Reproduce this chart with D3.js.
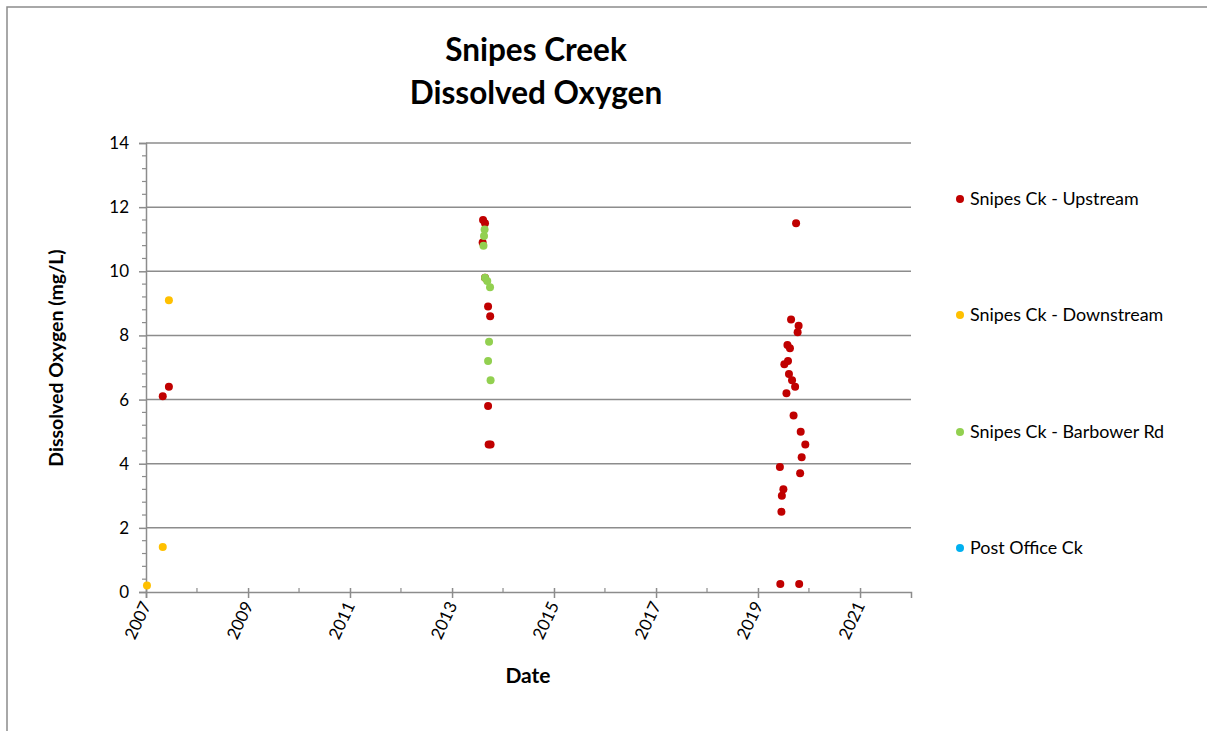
<!DOCTYPE html>
<html><head><meta charset="utf-8">
<script src="https://cdn.jsdelivr.net/npm/d3@7"></script>
<style>body{margin:0;background:#fff;font-family:Lato,"Open Sans",sans-serif;} svg{display:block;}</style>
</head><body>
<svg id="c" width="1207" height="731"></svg>
<script>
const seriesNames = ["Snipes Ck - Upstream","Snipes Ck - Downstream","Snipes Ck - Barbower Rd","Post Office Ck"];
const seriesColors = ["#C00000","#FFC000","#92D050","#00B0F0"];
const upstreamDates = ["2007-05-01","2007-06-14","2013-08-11","2013-08-25","2013-08-08","2013-08-25","2013-09-16","2013-10-01","2013-09-16","2013-09-20","2013-10-04",
  "2019-10-01","2019-08-26","2019-10-19","2019-10-12","2019-07-31","2019-08-18","2019-08-04","2019-07-09","2019-08-11","2019-09-02","2019-09-24","2019-07-24","2019-09-13","2019-11-03","2019-12-06","2019-11-10","2019-06-07","2019-10-30","2019-07-02","2019-06-21","2019-06-18","2019-06-10","2019-10-23"];
const upstreamValues = [6.1,6.4,11.6,11.5,10.9,9.8,8.9,8.6,5.8,4.6,4.6,
  11.5,8.5,8.3,8.1,7.7,7.6,7.2,7.1,6.8,6.6,6.4,6.2,5.5,5.0,4.6,4.2,3.9,3.7,3.2,3.0,2.5,0.25,0.25];
const downstreamDates = ["2007-01-08","2007-05-01","2007-06-14"];
const downstreamValues = [0.2,1.4,9.1];
const barbowerDates = ["2013-08-22","2013-08-18","2013-08-14","2013-08-25","2013-09-10","2013-09-30","2013-09-23","2013-09-16","2013-10-04"];
const barbowerValues = [11.3,11.1,10.8,9.8,9.7,9.5,7.8,7.2,6.6];
const postOfficeDates = [];
const postOfficeValues = [];
const yTicks = [0,2,4,6,8,10,12,14];
const xTickYears = [2007,2009,2011,2013,2015,2017,2019,2021];

const svg = d3.select("#c");
const W = 1207, H = 731;
const m = {l:146, r:911, t:143, b:592};
const parse = d3.timeParse("%Y-%m-%d");
const x = d3.scaleTime().domain([new Date(2007,0,1), new Date(2022,0,1)]).range([m.l, m.r]);
const y = d3.scaleLinear().domain([0,14]).range([m.b, m.t]);
const grey = "#8c8c8c";

// outer border
svg.append("rect").attr("x",7).attr("y",7).attr("width",W+20).attr("height",H+20)
  .attr("fill","none").attr("stroke",grey).attr("stroke-width",1.5);

// title
const title = svg.append("text").attr("text-anchor","middle").attr("font-weight","bold")
  .attr("font-size",31.5).attr("fill","#000");
title.append("tspan").attr("x",536).attr("y",61).text("Snipes Creek");
title.append("tspan").attr("x",536).attr("y",104).text("Dissolved Oxygen");

// gridlines
svg.append("g").selectAll("line").data(yTicks.filter(d=>d>0)).join("line")
  .attr("x1",m.l).attr("x2",m.r).attr("y1",d=>y(d)).attr("y2",d=>y(d))
  .attr("stroke",grey).attr("stroke-width",1.5);

// y axis
const yMinor = d3.range(0,14.01,0.4).filter(v=>Math.abs(v/2-Math.round(v/2))>0.01);
const yAx = d3.axisLeft(y).tickValues(yTicks).tickSize(7).tickFormat(d3.format("d"));
const gy = svg.append("g").attr("transform",`translate(${m.l},0)`).call(yAx);
gy.select(".domain").attr("stroke",grey).attr("stroke-width",1.5);
gy.selectAll(".tick line").attr("stroke",grey).attr("stroke-width",1.5);
gy.selectAll(".tick text").attr("font-size",17).attr("fill","#000").attr("font-family","Lato, sans-serif").attr("dx",-7);
svg.append("g").selectAll("line").data(yMinor).join("line")
  .attr("x1",m.l-4).attr("x2",m.l).attr("y1",d=>y(d)).attr("y2",d=>y(d)).attr("stroke",grey).attr("stroke-width",1.2);

// x axis
const xAx = d3.axisBottom(x).tickValues(xTickYears.map(yr=>new Date(yr,0,1))).tickSize(6).tickFormat(d3.timeFormat("%Y"));
const gx = svg.append("g").attr("transform",`translate(0,${m.b})`).call(xAx);
gx.select(".domain").attr("stroke",grey).attr("stroke-width",1.5);
gx.selectAll(".tick line").attr("stroke",grey).attr("stroke-width",1.5).attr("y1",-4);
gx.selectAll(".tick text").attr("font-size",17).attr("fill","#000").attr("font-family","Lato, sans-serif")
  .attr("text-anchor","end").attr("dy",0).attr("y",0)
  .attr("transform","translate(5,13) rotate(-65)");
const xMinor = d3.range(2008,2022,2).map(yr=>new Date(yr,0,1));
svg.append("g").selectAll("line").data(xMinor).join("line")
  .attr("x1",d=>x(d)).attr("x2",d=>x(d)).attr("y1",m.b-4).attr("y2",m.b).attr("stroke",grey).attr("stroke-width",1.2);

// axis titles
svg.append("text").attr("x",528).attr("y",683).attr("text-anchor","middle").attr("font-weight","bold").attr("font-size",21).text("Date");
svg.append("text").attr("transform","translate(63,358) rotate(-90)").attr("text-anchor","middle").attr("font-weight","bold").attr("font-size",19.5).text("Dissolved Oxygen (mg/L)");

// points
const series = [
  {dates:upstreamDates, values:upstreamValues},
  {dates:downstreamDates, values:downstreamValues},
  {dates:barbowerDates, values:barbowerValues},
  {dates:postOfficeDates, values:postOfficeValues}
];
[0,1,2,3].forEach(i=>{
  const s = series[i];
  svg.append("g").selectAll("circle").data(s.dates.map((d,j)=>({d:parse(d),v:s.values[j]}))).join("circle")
    .attr("cx",p=>x(p.d)).attr("cy",p=>y(p.v)).attr("r",4).attr("fill",seriesColors[i]);
});

// legend
const legY = [199,315,432,548];
const lg = svg.append("g").selectAll("g").data(seriesNames).join("g")
  .attr("transform",(d,i)=>`translate(960,${legY[i]})`);
lg.append("circle").attr("r",4).attr("fill",(d,i)=>seriesColors[i]);
lg.append("text").attr("x",10).attr("y",6).attr("font-size",17.9).attr("fill","#000").text(d=>d);
</script>
</body></html>
